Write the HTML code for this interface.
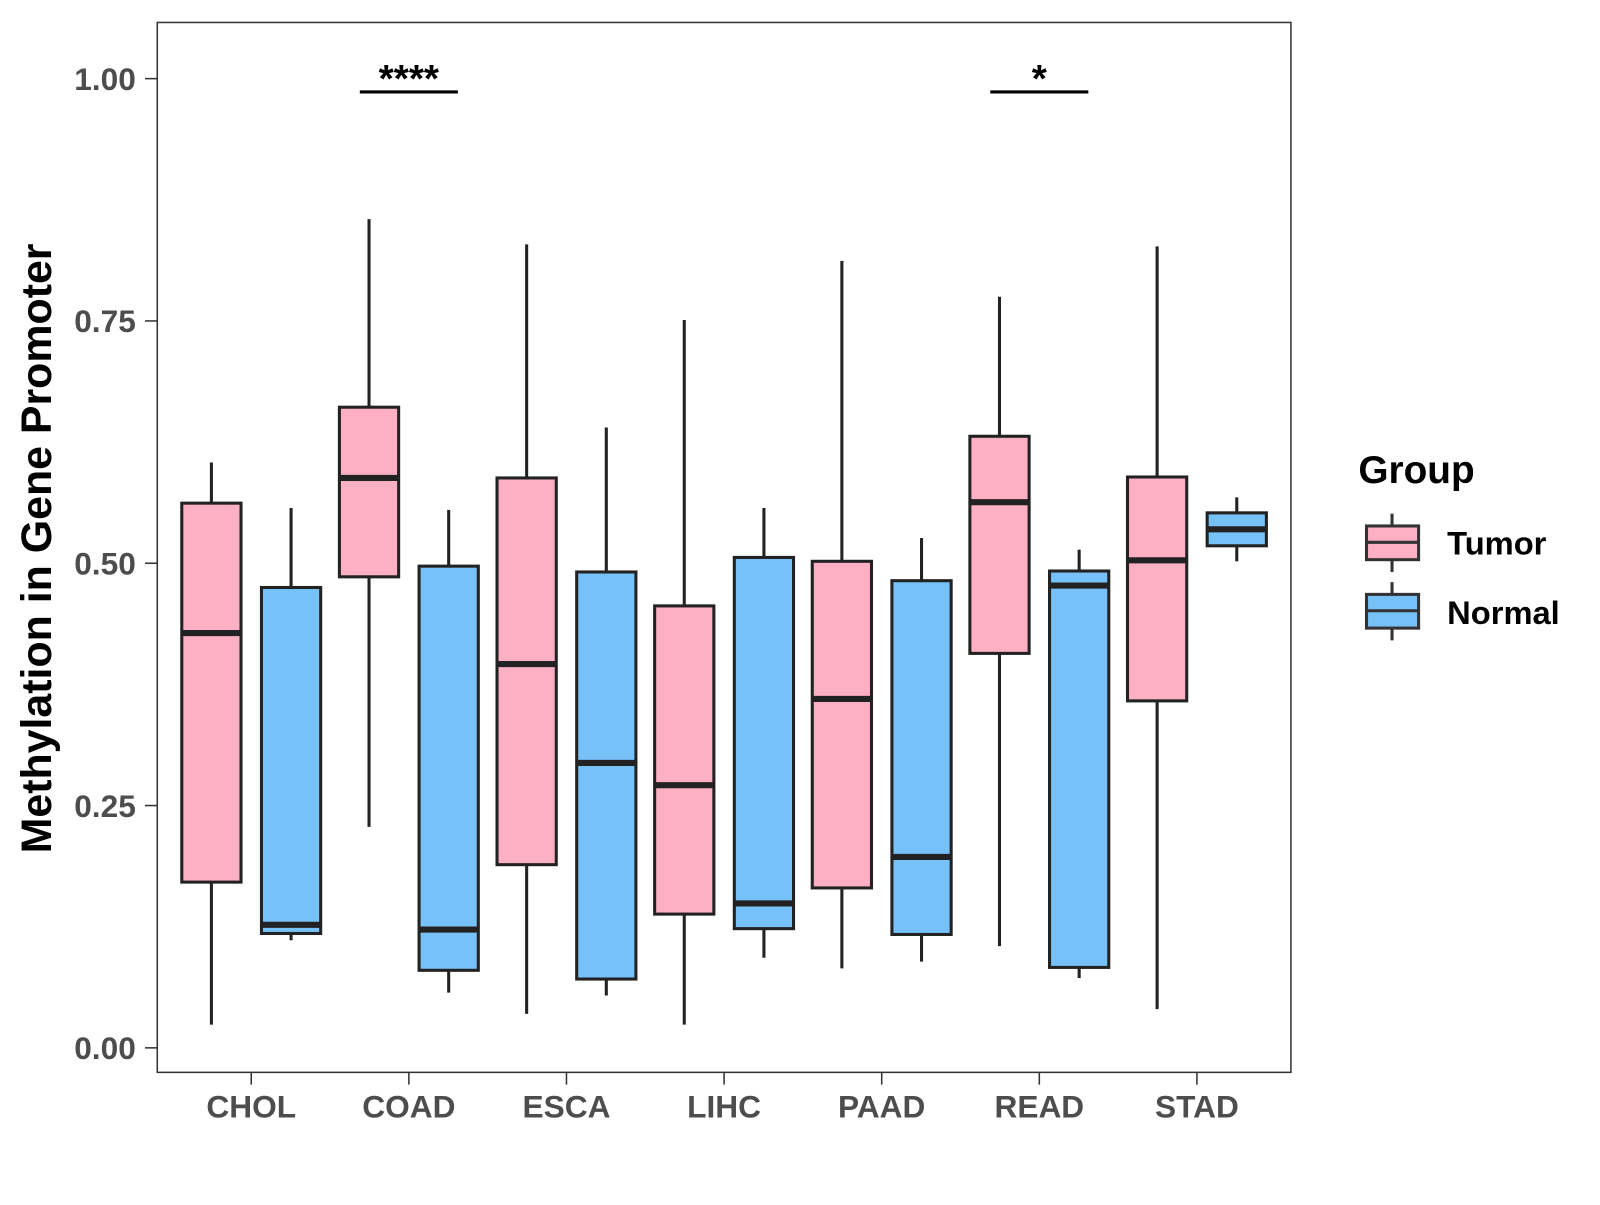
<!DOCTYPE html>
<html><head><meta charset="utf-8"><style>
body{margin:0;background:#fff;}
svg text{font-family:"Liberation Sans",Arial,sans-serif;font-weight:bold;}
</style></head><body>
<svg id="chart" width="1600" height="1200" xmlns="http://www.w3.org/2000/svg">
<rect x="0" y="0" width="1600" height="1200" fill="#fff"/>
<g transform="scale(1.0213)">
<rect x="154" y="22" width="1110" height="1028" fill="#fff" stroke="#333" stroke-width="1.5"/>
<g id="marks"></g>
<text x="50" y="537" font-size="42" fill="#000" text-anchor="middle" transform="rotate(-90 50 537)">Methylation in Gene Promoter</text>
<text x="1330" y="473" font-size="38" fill="#000">Group</text>
<g>
<line x1="1363" y1="503" x2="1363" y2="560" stroke="#333" stroke-width="3"/>
<rect x="1338" y="515" width="51" height="33" fill="#FDAFC3" stroke="#333" stroke-width="3"/>
<line x1="1338" y1="531" x2="1389" y2="531" stroke="#333" stroke-width="3"/>
<text x="1417" y="543" font-size="32" fill="#000">Tumor</text>
</g>
<g>
<line x1="1363" y1="570" x2="1363" y2="627" stroke="#333" stroke-width="3"/>
<rect x="1338" y="582" width="51" height="33" fill="#76C1F7" stroke="#333" stroke-width="3"/>
<line x1="1338" y1="598" x2="1389" y2="598" stroke="#333" stroke-width="3"/>
<text x="1417" y="611" font-size="32" fill="#000">Normal</text>
</g>
</g>
</svg>
<script>
const categories=["CHOL","COAD","ESCA","LIHC","PAAD","READ","STAD"];
const tumorLow=[0.024,0.228,0.035,0.024,0.082,0.105,0.040];
const tumorQ1=[0.171,0.486,0.189,0.138,0.165,0.407,0.358];
const tumorMed=[0.428,0.588,0.396,0.271,0.360,0.563,0.503];
const tumorQ3=[0.562,0.661,0.588,0.456,0.502,0.631,0.589];
const tumorHigh=[0.604,0.855,0.829,0.751,0.812,0.775,0.827];
const normalLow=[0.111,0.057,0.054,0.093,0.089,0.072,0.502];
const normalQ1=[0.118,0.080,0.071,0.123,0.117,0.083,0.518];
const normalMed=[0.127,0.122,0.294,0.149,0.197,0.477,0.535];
const normalQ3=[0.475,0.497,0.491,0.506,0.482,0.492,0.552];
const normalHigh=[0.557,0.555,0.640,0.557,0.526,0.514,0.568];
const yTicks=[0,0.25,0.5,0.75,1.0];
const yTickLabels=["0.00","0.25","0.50","0.75","1.00"];
const sigCategories=["COAD","READ"];
const sigLabels=["****","*"];

const NS="http://www.w3.org/2000/svg";
const g=document.getElementById("marks");
const yS=v=>1026-v*949;
const xS=i=>246+i*154.33;
function mk(tag,attrs,parent){const e=document.createElementNS(NS,tag);for(const k in attrs)e.setAttribute(k,attrs[k]);(parent||g).appendChild(e);return e;}

yTicks.forEach((t,i)=>{
  const y=yS(t);
  const l=mk("line",{x1:142,x2:154,y1:y,y2:y,stroke:"#333","stroke-width":1.5});
  
  
  const tx=mk("text",{x:133,y:y+11,"font-size":31,fill:"#4d4d4d","text-anchor":"end"});
  tx.textContent=yTickLabels[i];
  
  
});
categories.forEach((c,i)=>{
  const x=xS(i);
  const l=mk("line",{x1:x,x2:x,y1:1050,y2:1062,stroke:"#333","stroke-width":1.5});
  
  
  const tx=mk("text",{x:x,y:1094,"font-size":31,fill:"#4d4d4d","text-anchor":"middle"});
  tx.textContent=c;
  
  
});
function box(cx,lo,q1,md,q3,hi,fill,name){
  const grp=mk("g",{});
  
  
  const w=58;
  mk("line",{x1:cx,x2:cx,y1:yS(hi),y2:yS(q3),stroke:"#222","stroke-width":3},grp);
  mk("line",{x1:cx,x2:cx,y1:yS(q1),y2:yS(lo),stroke:"#222","stroke-width":3},grp);
  mk("rect",{x:cx-w/2,y:yS(q3),width:w,height:yS(q1)-yS(q3),fill:fill,stroke:"#222","stroke-width":3},grp);
  mk("line",{x1:cx-w/2,x2:cx+w/2,y1:yS(md),y2:yS(md),stroke:"#222","stroke-width":6},grp);
}
categories.forEach((c,i)=>{
  box(xS(i)-39,tumorLow[i],tumorQ1[i],tumorMed[i],tumorQ3[i],tumorHigh[i],"#FDAFC3","box-tumor-"+c.toLowerCase());
  box(xS(i)+39,normalLow[i],normalQ1[i],normalMed[i],normalQ3[i],normalHigh[i],"#76C1F7","box-normal-"+c.toLowerCase());
});
sigCategories.forEach((c,k)=>{
  const x=xS(categories.indexOf(c));
  const l=mk("line",{x1:x-48,x2:x+48,y1:90,y2:90,stroke:"#000","stroke-width":3});
  
  
  const t=mk("text",{x:x,y:90,"font-size":38,fill:"#000","text-anchor":"middle"});
  t.textContent=sigLabels[k];
  
  
});
</script>
</body></html>
